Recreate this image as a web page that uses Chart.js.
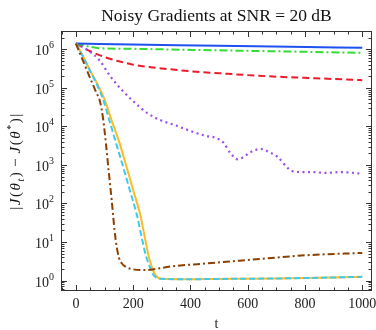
<!DOCTYPE html>
<html>
<head>
<meta charset="utf-8">
<script src="https://cdn.jsdelivr.net/npm/chart.js@4.4.1/dist/chart.umd.min.js"></script>
<style>
html,body{margin:0;padding:0;background:#fff;}
#wrap{width:376px;height:330px;}
</style>
</head>
<body>
<div id="wrap"><canvas id="c" width="376" height="330"></canvas></div>
<script>
// ---- data ----
const chartTitle = 'Noisy Gradients at SNR = 20 dB';
const xTitle = 't';
const xTicks = [0, 200, 400, 600, 800, 1000];
const yTickExps = [0, 1, 2, 3, 4, 5, 6];

const blueT = [0, 250, 500, 750, 1000];
const blueY = [1.41e6, 1.32e6, 1.23e6, 1.16e6, 1.1e6];

const greenT = [0, 40, 84, 200, 300, 500, 700, 1000];
const greenY = [1.41e6, 1.2e6, 1.07e6, 1.03e6, 1.0e6, 9.4e5, 8.9e5, 8.1e5];

const redT = [0, 25, 50, 100, 150, 200, 300, 400, 500, 600, 700, 800, 900, 1000];
const redY = [1.41e6, 1.12e6, 8.9e5, 6.3e5, 4.9e5, 4.0e5, 3.2e5, 2.7e5, 2.4e5, 2.14e5, 1.95e5, 1.82e5, 1.7e5, 1.58e5];

const purpleT = [0, 37, 84, 120, 160, 200, 250, 300, 350, 400, 450, 490, 515, 540, 565, 585, 610, 645, 675, 705, 740, 765, 830, 870, 925, 1000];
const purpleY = [1.41e6, 1.0e6, 5.0e5, 2.0e5, 8.9e4, 4.5e4, 2.2e4, 1.4e4, 1.05e4, 7.6e3, 5.75e3, 5.0e3, 3.8e3, 2.0e3, 1.4e3, 1.6e3, 2.14e3, 2.6e3, 2.14e3, 1.6e3, 8.3e2, 6.6e2, 6.5e2, 6.2e2, 6.5e2, 5.9e2];

const orangeT = [0, 25, 50, 75, 100, 125, 150, 175, 200, 225, 240, 255, 265, 275, 288, 300, 400, 500, 600, 700, 800, 900, 1000];
const orangeY = [1.41e6, 6.6e5, 2.8e5, 1.26e5, 5.0e4, 1.41e4, 4.2e3, 1.0e3, 2.24e2, 50, 14, 4.0, 2.3, 1.5, 1.17, 1.11, 1.08, 1.1, 1.11, 1.13, 1.16, 1.2, 1.25];

const cyanT = [0, 25, 50, 75, 95, 115, 138, 163, 188, 213, 229, 246, 258, 268, 282, 295, 400, 500, 600, 700, 800, 900, 1000];
const cyanY = [1.41e6, 6.4e5, 2.7e5, 1.15e5, 5.0e4, 1.6e4, 4.2e3, 1.0e3, 2.24e2, 50, 14, 4.0, 2.3, 1.5, 1.17, 1.11, 1.08, 1.1, 1.11, 1.13, 1.16, 1.2, 1.25];

const brownT = [0, 25, 50, 70, 84, 95, 105, 115, 125, 135, 143, 150, 160, 175, 200, 230, 260, 330, 450, 600, 800, 1000];
const brownY = [1.41e6, 5.0e5, 1.78e5, 7.9e4, 4.5e4, 1.58e4, 3.5e3, 6.3e2, 1.23e2, 20, 7.1, 4.0, 2.8, 2.24, 1.95, 1.86, 1.9, 2.3, 2.75, 3.4, 4.5, 5.2];

function pts(ts, ys) { return ts.map((t, i) => ({x: t, y: ys[i]})); }

const SERIF = "'Liberation Serif', 'DejaVu Serif', serif";

function ds(label, ts, ys, color, dash, width, cap) {
  return {
    label, data: pts(ts, ys), borderColor: color, backgroundColor: color,
    borderWidth: width || 2, borderDash: dash || [], borderCapStyle: cap || 'butt',
    pointRadius: 0, fill: false, cubicInterpolationMode: 'monotone'
  };
}

const decor = {
  id: 'decor',
  afterDatasetsDraw(chart) {
    const {ctx, chartArea: a, scales: {x, y}} = chart;
    ctx.save();
    // frame
    ctx.strokeStyle = '#333';
    ctx.lineWidth = 1;
    ctx.strokeRect(a.left + 0.5, a.top + 0.5, a.right - a.left - 1, a.bottom - a.top - 1);
    ctx.beginPath();
    // x ticks (major + minor), bottom and top, inward
    for (let v = -50; v <= 1050; v += 50) {
      const px = Math.round(x.getPixelForValue(v)) + 0.5;
      if (px < a.left + 1 || px > a.right - 1) continue;
      const major = xTicks.includes(v);
      const L = major ? 6 : 3.5;
      ctx.moveTo(px, a.bottom); ctx.lineTo(px, a.bottom - L);
      ctx.moveTo(px, a.top); ctx.lineTo(px, a.top + L);
    }
    // y ticks (major + minor), left and right
    for (let e = -1; e <= 6; e++) {
      for (let k = 1; k <= 9; k++) {
        const v = k * Math.pow(10, e);
        const py = Math.round(y.getPixelForValue(v)) + 0.5;
        if (py < a.top + 1 || py > a.bottom - 1) continue;
        const L = k === 1 ? 6 : 3.5;
        ctx.moveTo(a.left, py); ctx.lineTo(a.left + L, py);
        ctx.moveTo(a.right, py); ctx.lineTo(a.right - L, py);
      }
    }
    ctx.stroke();

    // x tick labels
    ctx.fillStyle = '#222';
    ctx.font = '14px ' + SERIF;
    ctx.textAlign = 'center';
    ctx.textBaseline = 'alphabetic';
    xTicks.forEach(v => ctx.fillText(String(v), x.getPixelForValue(v), a.bottom + 17));
    // x title
    ctx.fillText(xTitle, (a.left + a.right) / 2, a.bottom + 37);

    // y tick labels 10^e
    yTickExps.forEach(e => {
      const py = y.getPixelForValue(Math.pow(10, e));
      ctx.font = '10px ' + SERIF;
      const ws = ctx.measureText(String(e)).width;
      ctx.textAlign = 'right';
      ctx.fillText(String(e), a.left - 7, py - 1);
      ctx.font = '14px ' + SERIF;
      ctx.fillText('10', a.left - 7 - ws, py + 6);
    });

    // title
    ctx.font = '17.5px ' + SERIF;
    ctx.textAlign = 'center';
    ctx.fillStyle = '#111';
    ctx.fillText(chartTitle, (a.left + a.right) / 2, 21);

    // y title |J(θ_t) − J(θ*)|
    const pieces = [
      ['|', '', 15, 0], ['J', 'italic ', 15, 0], ['(', '', 15, 0], ['θ', 'italic ', 15, 0],
      ['t', 'italic ', 10, 4], [')', '', 15, 0], [' − ', '', 15, 0], ['J', 'italic ', 15, 0],
      ['(', '', 15, 0], ['θ', 'italic ', 15, 0], ['*', '', 10, -6], [')', '', 15, 0], ['|', '', 15, 0]
    ];
    let total = 0;
    pieces.forEach(p => { ctx.font = p[1] + p[2] + 'px ' + SERIF; total += ctx.measureText(p[0]).width + 1.5; });
    ctx.translate(15, (a.top + a.bottom) / 2);
    ctx.rotate(-Math.PI / 2);
    ctx.textAlign = 'left';
    let cx = -total / 2;
    pieces.forEach(p => {
      ctx.font = p[1] + p[2] + 'px ' + SERIF;
      ctx.fillText(p[0], cx, 5 + p[3]);
      cx += ctx.measureText(p[0]).width + 1.5;
    });
    ctx.restore();
  }
};

new Chart(document.getElementById('c'), {
  type: 'line',
  data: {
    datasets: [
      ds('brown', brownT, brownY, '#8e3f00', [7, 3, 2, 3], 2),
      ds('cyan', cyanT, cyanY, '#3ccbf0', [6, 3], 2),
      ds('orange', orangeT, orangeY, '#ffbb22', [], 2),
      ds('purple', purpleT, purpleY, '#9b4fe6', [2, 3.5], 2.2),
      ds('blue', blueT, blueY, '#1f50f0', [], 2),
      ds('green', greenT, greenY, '#33dd33', [8, 3, 2, 3], 2),
      ds('red', redT, redY, '#ec1b2a', [7, 4], 2)
    ]
  },
  options: {
    responsive: false,
    devicePixelRatio: 1,
    animation: false,
    layout: {padding: {left: 61, top: 31, right: 4, bottom: 39}},
    plugins: {legend: {display: false}, title: {display: false}, tooltip: {enabled: false}},
    scales: {
      x: {type: 'linear', min: -52, max: 1034, display: false},
      y: {type: 'logarithmic', min: 0.534, max: 2.99e6, display: false}
    }
  },
  plugins: [decor]
});
</script>
</body>
</html>
